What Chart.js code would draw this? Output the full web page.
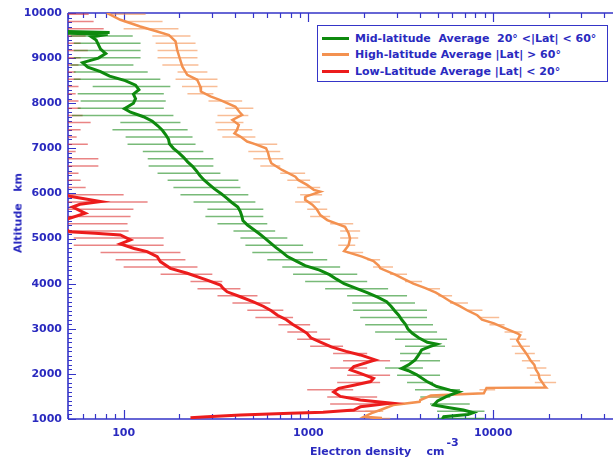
<!DOCTYPE html>
<html>
<head>
<meta charset="utf-8">
<title>Electron density profiles</title>
<script src="https://cdn.jsdelivr.net/npm/chart.js@4/dist/chart.umd.min.js"></script>
<style>
  html, body { margin: 0; padding: 0; background: #ffffff; }
  #wrap { position: relative; width: 613px; height: 461px; overflow: hidden; background: #ffffff; }
  #plot { position: absolute; left: 0; top: 0; }
  .lbl { position: absolute; font-family: "DejaVu Sans", Verdana, sans-serif; font-weight: bold;
         font-size: 11px; color: #2a2abf; white-space: pre; line-height: 13px; }
  #ytitle { left: 18px; top: 213px; transform: translate(-50%, -50%) rotate(-90deg); }
  #xtitle { left: 310px; top: 445px; }
  #xtitle .sup { position: relative; top: -9px; margin-left: 2px; }
  #legend { position: absolute; left: 317px; top: 25px; width: 291px; height: 57px; box-sizing: border-box;
            border: 1.5px solid #3535c8; background: #ffffff; }
  #legend .row { position: absolute; left: 0; height: 13px; }
  #legend .swatch { position: absolute; left: 4px; top: 5px; width: 27px; height: 3px; }
  #legend .txt { position: absolute; left: 37px; top: 0; }
</style>
</head>
<body>
<div id="wrap">
  <canvas id="plot" width="613" height="461"></canvas>
  <div id="ytitle" class="lbl">Altitude   km</div>
  <div id="xtitle" class="lbl">Electron density    cm<span class="sup">-3</span></div>
  <div id="legend"></div>
</div>
<script>
// Mid-latitude average profile: altitude (km) and electron density (cm^-3)
const midAltitude = [9590, 9570, 9550, 9530, 9470,
  9400, 9300, 9200, 9100, 9000, 8900, 8800, 8700, 8600, 8500, 8400, 8300, 8200, 8100, 8000,
  7880,
  7800, 7700, 7600, 7500, 7400, 7300, 7200, 7100, 7000, 6900,
  6800, 6700, 6600, 6500, 6400, 6300, 6200, 6100, 6000, 5900,
  5800, 5700, 5600, 5500, 5400, 5300, 5200, 5100, 5000, 4900,
  4800, 4700, 4600, 4500, 4400, 4300, 4200, 4100, 4000, 3900,
  3800, 3700, 3600, 3500, 3400, 3300, 3200, 3100, 3000, 2900,
  2800, 2700,
  2660, 2600, 2530, 2420, 2310, 2200, 2120, 2070, 1980, 1830, 1720, 1640, 1600, 1500, 1400, 1310, 1250, 1200, 1140, 1100, 1050, 1000];
const midDensity = [46, 84, 48, 82, 67,
  71, 73, 75, 80, 73, 60, 64, 75, 84, 102, 116, 121, 113, 116, 113,
  101,
  109, 128, 143, 153, 162, 169, 175, 177, 186, 199,
  211, 222, 236, 248, 258, 272, 290, 310, 336, 360,
  385, 415, 428, 436, 442, 468, 505, 545, 585, 625,
  668, 720, 770, 860, 960, 1150, 1300, 1420, 1560, 1800,
  2080, 2370, 2650, 2800, 2930, 3080, 3200, 3350, 3450, 3650,
  3950, 4400,
  4950, 4500, 4100, 3950, 3780, 3480, 3200, 3480, 3860, 4380, 4950, 5850, 6500, 5600, 5000, 4770, 5800, 6900, 7800, 7300, 5400, 5300];

// High-latitude average profile
const highAltitude = [10000, 9850, 9700, 9590, 9510, 9370, 9180, 9030, 8810, 8630,
  8520, 8370, 8260, 8150, 8070, 7920, 7800, 7740, 7630, 7520,
  7400, 7330, 7260, 7150, 7100, 7000, 6900, 6780, 6670, 6520,
  6370, 6300, 6190, 6080, 6040, 5930, 5860, 5750, 5650, 5520,
  5410, 5260, 5120, 5000, 4850, 4720, 4600, 4500, 4400, 4340,
  4200, 4100, 4000, 3900, 3800, 3700, 3600, 3500, 3400, 3300,
  3200, 3120, 3000, 2900, 2860, 2740, 2600, 2500, 2400, 2300,
  2200, 2100, 2000, 1900, 1800, 1730, 1700, 1690, 1570, 1520,
  1420, 1380, 1310, 1200, 1130, 1050, 1020, 1000];
const highDensity = [81, 96, 123, 152, 176, 191, 195, 200, 208, 221,
  250, 260, 262, 295, 334, 403, 425, 438, 388, 420,
  410, 398, 428, 466, 510, 590, 605, 615, 630, 720,
  850, 880, 983, 1070, 1160, 965, 960, 1050, 1110, 1160,
  1265, 1580, 1650, 1680, 1650, 1560, 1950, 2250, 2400, 2450,
  2950, 3300, 3700, 4300, 4900, 5400, 5900, 6600, 7300, 8200,
  8700, 10100, 11800, 13500, 14000, 13500, 14200, 14800, 15400, 15900,
  16700, 17000, 17600, 17800, 18500, 19000, 19300, 9200, 8900, 4600,
  4030, 4000, 2880, 2450, 2200, 2000, 2500, 2200];

// Low-latitude average profile
const lowAltitude = [6050, 5930, 5820, 5760, 5700, 5560, 5440, 5350, 5200, 5150,
  5120, 5080, 4970, 4880, 4780, 4710, 4600, 4490, 4340, 4230,
  4080, 3970, 3900, 3820, 3710, 3600, 3500, 3400, 3300, 3200,
  3100, 3000, 2900, 2800, 2700, 2600, 2500, 2420, 2310, 2160,
  2090, 2010, 1900, 1830, 1750, 1680, 1600, 1500, 1420, 1350,
  1270, 1200, 1150, 1130, 1090, 1050, 1030];
const lowDensity = [40, 52, 75, 58, 53, 62, 50, 48, 49, 51,
  70, 96, 109, 96, 114, 134, 152, 158, 179, 221,
  283, 334, 345, 363, 428, 500, 570, 630, 680, 760,
  820, 900, 983, 1030, 1170, 1330, 1600, 1910, 2300, 1760,
  1690, 1910, 2250, 2170, 1760, 1460, 1370, 1490, 1910, 2800,
  1910, 1760, 1200, 800, 430, 283, 230];

// Altitudes of the spread bars (km), shared by the three profiles
const barAltitude = [9970, 9810, 9650, 9490, 9330, 9170, 9010, 8850, 8690, 8530,
  8370, 8210, 8050, 7890, 7730, 7570, 7410, 7250, 7090, 6930,
  6770, 6610, 6450, 6290, 6130, 5970, 5810, 5650, 5490, 5330,
  5170, 5010, 4850, 4690, 4530, 4370, 4210, 4050, 3890, 3730,
  3570, 3410, 3250, 3090, 2930, 2770, 2610, 2450, 2290, 2130,
  1970, 1810, 1650, 1490, 1330, 1170, 1010];

// Spread bar ends (cm^-3)
const midBarLow = [null, null, null, 51.7, 53.7, 53.7, 53.7, 51.7, 53.7, 53.7,
  68, 56.4, 58.5, 56.4, 52.5, 96, 87, 102.5, 105, 127,
  135, 136.5, 152.6, 173, 186, 203, 239, 284, 277, 322,
  393, 428.6, 456, 497, 599, 722, 826, 960, 1232, 1620,
  1725, 1747, 1905, 2028, 2296, 2944, 3333, 3133, 3133, 2600,
  3019, 3418, 3774, 4031, 4549, 4969, 4969];
const midBarHigh = [null, null, null, 112, 123.5, 123.5, 123.5, 113, 135, 158,
  179, 165, 169, 165, 186, 203, 222, 236, 245, 270,
  306, 306, 334, 418, 428.6, 473, 516.5, 570, 570, 599,
  661, 769, 936, 1060, 1264, 1485, 1838, 2080, 2700, 3418,
  3774, 4383, 4383, 4724, 4969, 5626, 5486, 4565, 5157, 4167,
  5157, 4724, 6611, 5855, 7467, 8971, 8971];
const highBarLow = [82, 100, 100, 143, 149, 152.6, 152.6, 162, 195.8, 191,
  207, 221.5, 288, 355, 322, 314, 322, 342, 503.5, 473,
  503.5, 549, 704, 769, 869, 902, 847.6, 985, 1022, 1311,
  1485, 1485, 1450, 1620, 2080, 2238, 2767, 3333, 4383, 5050,
  5838, 7310, 8432, 9548, 11520, 12300, 12600, 13100, 14300, 15200,
  15800, 16800, 8430, 4270, 2770, 2030, 2160];
const highBarHigh = [131.5, 162.4, 198, 230, 245, 251, 251, 254, 284, 322,
  322, 306, 438, 503.5, 473, 445, 497, 516.5, 678, 704,
  731.5, 704, 960, 1022, 1158, 1186, 1158, 1264, 1311, 1747,
  1905, 1860, 1792, 1978, 2444, 2870, 3418, 4120, 5157, 5990,
  7300, 8747, 10780, 11520, 14400, 15100, 15800, 16800, 17950, 19400,
  20500, 21900, 10250, 5160, 3330, 2540, 2770];
const lowBarLow = [40, 40, 40, 40, 40, 40, 40, 40, 40, 40,
  40, 40, 40, 40, 40, 40, 40, 40, 40, 40,
  40, 40, 40, 40, 40, 40, 40, 40, 40, 40,
  40, 53.7, 53.7, 75, 90.5, 100, 158.5, 230, 251, 322,
  388, 467, 516.5, 688, 769, 869, 1022, 1360, 1540, 1311,
  1620, 1431, 985, 1264, 1311, 1395, null];
const lowBarHigh = [64.7, 68.8, 78, 62.3, 58.5, 64, 58.5, 57, 55, 58.5,
  57, 55, 57, 58.5, 60, 66.3, 58.5, 55.7, 64, 55,
  73, 73, 57, 58.5, 62.3, 100, 134.8, 113, 109, 105,
  106.4, 164.6, 164.6, 203, 216, 251, 302, 342, 428.6, 530,
  622, 731.5, 826, 1022, 1115, 1311, 1540, 2080, 2767, 2080,
  2767, 2444, 1747, 2355, 2835, 2444, null];

// Axis labels
const densityTickLabels = [100, 1000, 10000];
const altitudeTickLabels = [1000, 2000, 3000, 4000, 5000, 6000, 7000, 8000, 9000, 10000];

const AXIS_BLUE = '#3535c8';
const TEXT_BLUE = '#2a2abf';
const FONT = { family: 'DejaVu Sans', size: 11, weight: 'bold' };

const GREEN = '#0e8a0e', ORANGE = '#f39150', RED = '#ec1c1c';

function profilePoints(alt, dens) {
  return alt.map((a, i) => ({ x: dens[i], y: a }));
}

// Each spread bar is a two-point segment; a null y breaks the line between bars.
function barPoints(lo, hi) {
  const pts = [];
  barAltitude.forEach((alt, i) => {
    if (lo[i] == null || hi[i] == null) return;
    pts.push({ x: lo[i], y: alt }, { x: hi[i], y: alt }, { x: hi[i], y: null });
  });
  return pts;
}

function barSet(lo, hi, color, order) {
  return { data: barPoints(lo, hi), showLine: true, spanGaps: false, borderColor: color,
           borderWidth: 1.5, pointRadius: 0, pointHoverRadius: 0, order: order, isBar: true };
}
function lineSet(label, alt, dens, color, width, order) {
  return { label: label, data: profilePoints(alt, dens), showLine: true, borderColor: color,
           backgroundColor: color, borderWidth: width, pointRadius: 0, pointHoverRadius: 0,
           tension: 0, order: order };
}

// Frame and inward tick marks on the left, bottom and top edges
const axisFrame = {
  id: 'axisFrame',
  beforeDatasetsDraw(chart) {
    const { ctx, chartArea: a, scales: { x, y } } = chart;
    ctx.save();
    ctx.strokeStyle = AXIS_BLUE;
    ctx.lineWidth = 1.6;
    ctx.beginPath();
    ctx.moveTo(a.left, a.top); ctx.lineTo(a.right, a.top);
    ctx.moveTo(a.left, a.top); ctx.lineTo(a.left, a.bottom);
    ctx.moveTo(a.left, a.bottom); ctx.lineTo(a.right, a.bottom);
    ctx.stroke();
    ctx.lineWidth = 1.2;
    ctx.beginPath();
    for (let v = y.min; v <= y.max; v += 100) {
      const py = Math.round(y.getPixelForValue(v)) + 0.5;
      const len = v % 1000 === 0 ? 8 : 4;
      ctx.moveTo(a.left, py); ctx.lineTo(a.left + len, py);
    }
    for (let dec = 10; dec <= 100000; dec *= 10) {
      for (let m = 1; m <= 9; m++) {
        const v = m * dec;
        if (v < x.min || v > x.max) continue;
        const px = Math.round(x.getPixelForValue(v)) + 0.5;
        const len = m === 1 ? 9 : 5;
        ctx.moveTo(px, a.bottom); ctx.lineTo(px, a.bottom - len);
        ctx.moveTo(px, a.top); ctx.lineTo(px, a.top + len);
      }
    }
    ctx.stroke();
    ctx.restore();
  }
};

const chart = new Chart(document.getElementById('plot'), {
  type: 'scatter',
  data: {
    datasets: [
      lineSet('Mid-latitude  Average  20\u00B0 <|Lat| < 60\u00B0', midAltitude, midDensity, GREEN, 3, 1),
      lineSet('High-latitude Average |Lat| > 60\u00B0', highAltitude, highDensity, ORANGE, 2.5, 2),
      lineSet('Low-Latitude Average |Lat| < 20\u00B0', lowAltitude, lowDensity, RED, 3, 0),
      barSet(midBarLow, midBarHigh, 'rgba(30,140,30,0.6)', 12),
      barSet(highBarLow, highBarHigh, 'rgba(243,145,80,0.6)', 11),
      barSet(lowBarLow, lowBarHigh, 'rgba(220,50,50,0.6)', 13)
    ]
  },
  options: {
    responsive: false,
    animation: false,
    events: [],
    layout: { padding: { top: 13, right: 0, left: 0, bottom: 0 } },
    plugins: { legend: { display: false }, tooltip: { enabled: false } },
    scales: {
      x: {
        type: 'logarithmic', min: 50, max: 44500,
        grid: { display: false, drawTicks: false },
        border: { display: false },
        afterBuildTicks: s => { s.ticks = densityTickLabels.map(v => ({ value: v })); },
        afterFit: s => { s.height = 42; },
        ticks: { color: TEXT_BLUE, font: FONT, padding: 8, autoSkip: false, maxRotation: 0,
                 callback: v => String(v) }
      },
      y: {
        type: 'linear', min: 1000, max: 10000,
        grid: { display: false, drawTicks: false },
        border: { display: false },
        afterBuildTicks: s => { s.ticks = altitudeTickLabels.map(v => ({ value: v })); },
        afterFit: s => { s.width = 68; },
        ticks: { color: TEXT_BLUE, font: FONT, padding: 6, callback: v => String(v) }
      }
    }
  },
  plugins: [axisFrame]
});

// Legend box built from the profile datasets
const legend = document.getElementById('legend');
const rowTops = [6, 22, 39];
chart.data.datasets.filter(d => !d.isBar).forEach((d, i) => {
  const row = document.createElement('div');
  row.className = 'row';
  row.style.top = rowTops[i] + 'px';
  const sw = document.createElement('div');
  sw.className = 'swatch';
  sw.style.background = d.borderColor;
  const tx = document.createElement('div');
  tx.className = 'lbl txt';
  tx.textContent = d.label;
  row.appendChild(sw);
  row.appendChild(tx);
  legend.appendChild(row);
});
</script>
</body>
</html>
